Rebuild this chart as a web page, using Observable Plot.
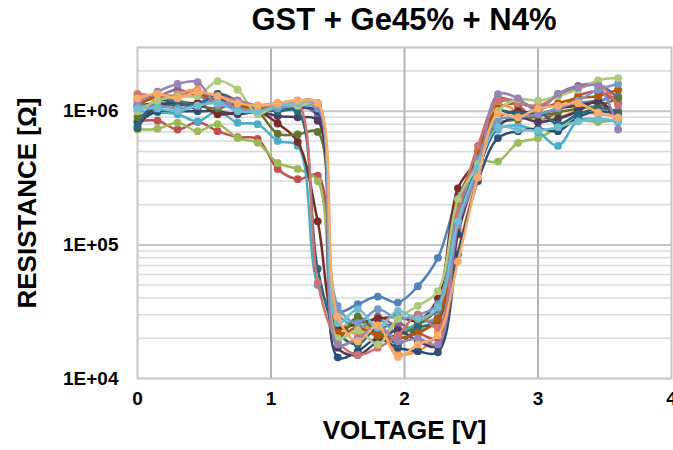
<!DOCTYPE html>
<html><head><meta charset="utf-8">
<script src="https://cdn.jsdelivr.net/npm/d3@7"></script>
<script src="https://cdn.jsdelivr.net/npm/@observablehq/plot@0.6"></script>
<style>
body{margin:0;background:#fff;font-family:"Liberation Sans",Arial,sans-serif;}
#title{height:40px;line-height:40px;margin-left:137px;width:534px;text-align:center;font-size:31px;font-weight:bold;color:#000;white-space:nowrap;}
</style></head><body>
<div id="title">GST + Ge45% + N4%</div>
<div id="chart"></div>
<script>
const voltages = [0,0.15,0.3,0.45,0.6,0.75,0.9,1.05,1.2,1.35,1.5,1.65,1.8,1.95,2.1,2.25,2.4,2.55,2.7,2.85,3.0,3.15,3.3,3.45,3.6];

const r01 = [1.2e6,1.25e6,1.2e6,1.15e6,1.35e6,1.1e6,1.05e6,1.1e6,1.15e6,1.1e6,3.2e4,3.6e4,4.1e4,3.7e4,4.9e4,8.0e4,2.3e5,4.3e5,9.0e5,1.0e6,9.5e5,1.05e6,1.15e6,1.2e6,1.3e6];
const r02 = [8.4e5,8.5e5,7.3e5,8.3e5,7.1e5,6.4e5,6.2e5,3.7e5,3.1e5,3.3e5,2.6e4,2.2e4,2.9e4,2.4e4,2.2e4,2.0e4,1.7e5,4.0e5,1.25e6,1.1e6,8.5e5,1.0e6,1.3e6,1.4e6,1.15e6];
const r03 = [7.3e5,7.4e5,8.2e5,7.1e5,8.0e5,6.3e5,5.8e5,4.1e5,3.7e5,3.0e5,2.4e4,2.8e4,2.0e4,2.6e4,2.3e4,3.0e4,1.3e5,4.2e5,4.2e5,5.8e5,6.3e5,7.5e5,8.6e5,8.3e5,8.8e5];
const r04 = [1.25e6,1.3e6,1.45e6,1.3e6,1.2e6,1.2e6,1.05e6,1.1e6,1.1e6,9.2e5,1.8e4,2.0e4,2.3e4,2.6e4,2.2e4,3.1e4,1.6e5,3.9e5,1.15e6,1.2e6,1.05e6,1.35e6,1.55e6,1.6e6,1.25e6];
const r05 = [1.0e6,9.8e5,9.5e5,8.4e5,1.0e6,8.2e5,8.0e5,6.0e5,5.5e5,5.0e4,3.0e4,2.4e4,2.8e4,2.2e4,2.6e4,2.9e4,1.6e5,3.7e5,7.3e5,7.8e5,7.0e5,5.5e5,8.5e5,8.7e5,8.3e5];
const r06 = [1.3e6,1.2e6,1.34e6,1.45e6,1.15e6,1.05e6,1.1e6,1.15e6,1.15e6,1.1e6,2.5e4,2.2e4,2.6e4,1.55e4,1.6e4,2.2e4,9.0e4,3.4e5,1.1e6,1.0e6,8.5e5,9.0e5,1.0e6,9.5e5,9.3e5];
const r07 = [8.2e5,1.0e6,1.0e6,1.0e6,1.0e6,9.5e5,1.0e6,1.05e6,1.05e6,1.0e6,1.44e4,1.6e4,2.0e4,1.7e4,1.6e4,1.57e4,8.5e4,3.0e5,6.3e5,7.1e5,7.4e5,7.1e5,9.0e5,1.0e6,9.5e5];
const r08 = [1.1e6,1.15e6,1.1e6,1.15e6,9.5e5,9.8e5,1.0e6,8.1e5,5.9e5,1.5e5,2.4e4,2.6e4,2.8e4,2.9e4,2.7e4,4.0e4,2.65e5,4.4e5,9.0e5,1.0e6,9.5e5,1.05e6,1.1e6,1.15e6,8.9e5];
const r09 = [9.0e5,1.05e6,1.15e6,1.1e6,1.05e6,1.15e6,1.0e6,6.8e5,6.7e5,7.0e5,2.0e4,2.9e4,2.2e4,2.1e4,2.5e4,3.4e4,1.9e5,4.3e5,8.0e5,8.7e5,9.2e5,9.8e5,1.05e6,1.1e6,1.25e6];
const r10 = [7.5e5,1.1e6,1.15e6,1.05e6,1.25e6,1.0e6,1.0e6,9.2e5,9.0e5,8.5e5,1.7e4,1.5e4,1.9e4,2.3e4,1.9e4,1.75e4,1.2e5,3.6e5,7.7e5,9.0e5,8.3e5,8.8e5,1.0e6,1.2e6,8.9e5];
const r11 = [7.7e5,1.2e6,1.15e6,1.1e6,1.35e6,1.2e6,1.05e6,1.0e6,1.0e6,6.6e4,2.2e4,1.8e4,2.4e4,1.8e4,2.4e4,2.7e4,1.5e5,4.1e5,1.0e6,9.5e5,1.0e6,8.0e5,9.5e5,1.05e6,1.0e6];
const r12 = [1.1e6,1.3e6,1.3e6,1.35e6,1.2e6,1.1e6,1.05e6,1.1e6,1.2e6,1.15e6,2.2e4,2.4e4,2.1e4,2.0e4,2.2e4,2.8e4,2.0e5,5.0e5,1.05e6,1.15e6,1.05e6,1.15e6,1.25e6,1.3e6,1.45e6];
const r13 = [1.1e6,1.1e6,1.05e6,1.1e6,1.2e6,1.05e6,1.0e6,1.05e6,1.1e6,1.05e6,3.5e4,2.6e4,3.3e4,2.8e4,3.0e4,3.6e4,1.8e5,4.4e5,8.6e5,9.0e5,9.5e5,1.05e6,1.2e6,1.45e6,1.6e6];
const r14 = [1.35e6,1.3e6,1.3e6,1.4e6,1.3e6,1.2e6,1.1e6,1.1e6,1.15e6,5.2e4,1.9e4,1.5e4,1.7e4,2.1e4,3.0e4,2.4e4,1.7e5,5.5e5,1.2e6,1.15e6,1.1e6,1.3e6,1.5e6,1.6e6,1.1e6];
const r15 = [1.0e6,1.2e6,1.3e6,1.3e6,1.68e6,1.45e6,9.5e5,1.12e6,1.1e6,1.12e6,2.0e4,2.3e4,1.8e4,2.8e4,3.5e4,4.5e4,2.2e5,4.0e5,1.0e6,1.23e6,1.2e6,1.3e6,1.45e6,1.7e6,1.77e6];
const r16 = [1.15e6,1.4e6,1.6e6,1.65e6,1.1e6,1.2e6,1.1e6,1.15e6,1.2e6,1.1e6,1.8e4,2.0e4,2.5e4,1.9e4,2.0e4,1.8e4,1.4e5,3.5e5,1.34e6,1.25e6,1.0e6,1.35e6,1.5e6,1.55e6,7.3e5];
const r17 = [1.05e6,1.05e6,1.0e6,1.1e6,1.15e6,1.0e6,1.0e6,1.1e6,1.15e6,1.15e6,2.6e4,3.3e4,2.4e4,3.2e4,2.8e4,3.4e4,1.5e5,3.8e5,7.6e5,7.3e5,7.2e5,7.6e5,8.4e5,8.7e5,8.5e5];
const r18 = [1.25e6,1.35e6,1.25e6,1.4e6,1.3e6,1.15e6,1.1e6,1.15e6,1.2e6,1.15e6,2.9e4,1.9e4,2.5e4,1.45e4,1.8e4,2.1e4,7.5e4,3.2e5,9.5e5,9.0e5,1.05e6,1.1e6,1.15e6,9.8e5,9.0e5];

const seriesNames = ["S1","S2","S3","S4","S5","S6","S7","S8","S9","S10","S11","S12","S13","S14","S15","S16","S17","S18"];
const seriesValues = [r01,r02,r03,r04,r05,r06,r07,r08,r09,r10,r11,r12,r13,r14,r15,r16,r17,r18];
const seriesColors = ["#4F81BD","#C0504D","#9BBB59","#8064A2","#4BACC6","#F79646","#2C4D75","#772C2A","#5F7530","#4D3B62","#276A7C","#B65708","#729ACA","#CD7371","#AFC97A","#9983B5","#6FBDD1","#F9AB6B"];

const xTicks = [0,1,2,3,4];
const xTickLabels = ["0","1","2","3","4"];
const yTicks = [1e4,1e5,1e6];
const yTickLabels = ["1E+04","1E+05","1E+06"];
const xLabel = "VOLTAGE [V]";
const yLabel = "RESISTANCE [Ω]";

// grid values for the log axis
const majorGrid = [1e5,1e6];
const minorGrid = [];
for (const dec of [1e4,1e5,1e6]) for (let k = 2; k <= 9; k++) if (k*dec <= 3e6) minorGrid.push(k*dec);

const marks = [
  Plot.ruleY(minorGrid, {stroke:"#dadada", strokeWidth:1.5}),
  Plot.ruleY(majorGrid, {stroke:"#c6c6c6", strokeWidth:2}),
  Plot.ruleX([1,2,3], {stroke:"#b4b4b4", strokeWidth:2}),
  Plot.frame({stroke:"#c6c6c6", strokeWidth:2})
];
seriesNames.forEach((name, si) => {
  const rows = voltages.map((v, i) => ({series:name, v, r: seriesValues[si][i]}));
  marks.push(Plot.line(rows, {x:"v", y:"r", stroke:"series", strokeWidth:2.5, curve:"catmull-rom", clip:true}));
  marks.push(Plot.dot(rows, {x:"v", y:"r", fill:"series", r:3.9}));
});
marks.push(
  Plot.axisX({ticks:xTicks, tickFormat:d => xTickLabels[xTicks.indexOf(d)], tickSize:0, tickPadding:13, fontSize:19, fontWeight:"bold", label:null}),
  Plot.axisY({ticks:yTicks, tickFormat:d => yTickLabels[yTicks.indexOf(d)], tickSize:0, tickPadding:19, fontSize:19, fontWeight:"bold", label:null}),
  Plot.text([xLabel], {text:d => d, frameAnchor:"bottom", textAnchor:"middle", dy:60, fontSize:26, fontWeight:"bold", fill:"#000"}),
  Plot.text([yLabel], {text:d => d, frameAnchor:"left", textAnchor:"middle", dx:-110, dy:-10, rotate:-90, fontSize:26, fontWeight:"bold", fill:"#000"})
);

const chart = Plot.plot({
  width:673, height:410,
  marginTop:7, marginBottom:72, marginLeft:137, marginRight:2,
  style:{fontFamily:"'Liberation Sans', Arial, sans-serif", background:"#fff", color:"#000", overflow:"visible"},
  x:{domain:[0,4]},
  y:{type:"log", domain:[1e4,3e6]},
  color:{domain:seriesNames, range:seriesColors},
  marks
});
document.getElementById("chart").appendChild(chart);
</script></body></html>
